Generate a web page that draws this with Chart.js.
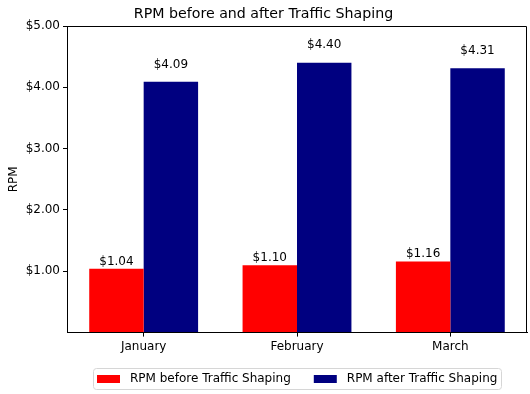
<!DOCTYPE html>
<html>
<head>
<meta charset="utf-8">
<script src="https://cdn.jsdelivr.net/npm/chart.js@4"></script>
<style>
  html, body { margin: 0; padding: 0; background: #ffffff; }
  #wrap { width: 530px; height: 394px; }
</style>
</head>
<body>
<div id="wrap"><canvas id="rpmChart" width="530" height="394"></canvas></div>
<script>
// Chart data
const months = ['January', 'February', 'March'];
const rpmBefore = [1.04, 1.10, 1.16];
const rpmAfter = [4.09, 4.40, 4.31];
const seriesLabels = ['RPM before Traffic Shaping', 'RPM after Traffic Shaping'];
const yMin = 0;
const yMax = 5;
const yStep = 1;

const FONT = 'DejaVu Sans';
const FONT_SIZE = 12;

// top/right spines + value labels above bars + framed legend below
const extrasPlugin = {
    id: 'extras',
    afterDatasetsDraw(chart) {
        const ctx = chart.ctx;
        const yScale = chart.scales.y;
        ctx.save();
        ctx.font = FONT_SIZE + 'px "' + FONT + '"';
        ctx.fillStyle = '#000';
        ctx.textAlign = 'center';
        ctx.textBaseline = 'bottom';
        chart.data.datasets.forEach((ds, i) => {
            chart.getDatasetMeta(i).data.forEach((bar, j) => {
                const v = ds.data[j];
                ctx.fillText('$' + v.toFixed(2), bar.x, yScale.getPixelForValue(v * 1.05) + 2);
            });
        });
        const a = chart.chartArea;
        const t = Math.round(a.top) + 0.5;
        const r = Math.round(a.right) - 0.5;
        ctx.strokeStyle = '#000';
        ctx.lineWidth = 1;
        ctx.beginPath();
        ctx.moveTo(a.left, t);
        ctx.lineTo(r, t);
        ctx.lineTo(r, a.bottom);
        ctx.stroke();
        ctx.restore();
    },
    afterDraw(chart) {
        const ctx = chart.ctx;
        const a = chart.chartArea;
        const sets = chart.data.datasets;
        ctx.save();
        ctx.font = FONT_SIZE + 'px "' + FONT + '"';
        const widths = sets.map(ds => ctx.measureText(ds.label).width);
        const patchW = 23, patchH = 8, gap = 10, itemGap = 23, pad = 4;
        let total = pad * 2 + widths.reduce((s, w) => s + w, 0) + sets.length * (patchW + gap) + (sets.length - 1) * itemGap;
        const x0 = Math.round((a.left + a.right) / 2 - total / 2);
        const y0 = 368, h = 21;
        ctx.strokeStyle = '#d6d6d6';
        ctx.lineWidth = 1;
        ctx.beginPath();
        ctx.roundRect(x0 + 0.5, y0 + 0.5, Math.round(total), h, 3);
        ctx.stroke();
        let x = x0 + pad;
        const cy = y0 + h / 2 + 0.5;
        ctx.textBaseline = 'middle';
        ctx.textAlign = 'left';
        sets.forEach((ds, i) => {
            ctx.fillStyle = ds.backgroundColor;
            ctx.fillRect(x, Math.round(cy - patchH / 2), patchW, patchH);
            x += patchW + gap;
            ctx.fillStyle = '#000';
            ctx.fillText(ds.label, x, cy);
            x += widths[i] + itemGap;
        });
        ctx.restore();
    }
};

const ctx = document.getElementById('rpmChart').getContext('2d');
new Chart(ctx, {
    type: 'bar',
    data: {
        labels: months,
        datasets: [
            {
                label: seriesLabels[0],
                data: rpmBefore,
                backgroundColor: '#ff0000',
                borderWidth: 0
            },
            {
                label: seriesLabels[1],
                data: rpmAfter,
                backgroundColor: '#000080',
                borderWidth: 0
            }
        ]
    },
    options: {
        responsive: false,
        animation: false,
        devicePixelRatio: 1,
        categoryPercentage: 0.71,
        barPercentage: 1.0,
        layout: { padding: { left: 0, right: 3, top: 0, bottom: 37 } },
        scales: {
            x: {
                offset: true,
                grid: { display: true, drawOnChartArea: false, offset: false, tickLength: 4, color: '#000' },
                border: { display: true, color: '#000', width: 1 },
                ticks: { color: '#000', padding: 3, font: { family: FONT, size: FONT_SIZE } }
            },
            y: {
                min: yMin,
                max: yMax,
                afterFit(scale) { scale.width = 67; },
                grid: {
                    display: true,
                    drawOnChartArea: false,
                    tickLength: 4,
                    color: c => (c.tick && c.tick.value === 0 ? 'rgba(0,0,0,0)' : '#000')
                },
                border: { display: true, color: '#000', width: 1 },
                ticks: {
                    stepSize: yStep,
                    color: '#000',
                    padding: 3,
                    font: { family: FONT, size: FONT_SIZE },
                    callback: v => (v === 0 ? '' : '$' + v.toFixed(2))
                },
                title: {
                    display: true,
                    text: 'RPM',
                    color: '#000',
                    padding: { top: 7, bottom: 2 },
                    font: { family: FONT, size: FONT_SIZE }
                }
            }
        },
        plugins: {
            title: {
                display: true,
                text: 'RPM before and after Traffic Shaping',
                color: '#000',
                padding: { top: 6, bottom: 3 },
                font: { family: FONT, size: 14.2, weight: 'normal' }
            },
            legend: { display: false },
            tooltip: { enabled: false }
        }
    },
    plugins: [extrasPlugin]
});
</script>
</body>
</html>
